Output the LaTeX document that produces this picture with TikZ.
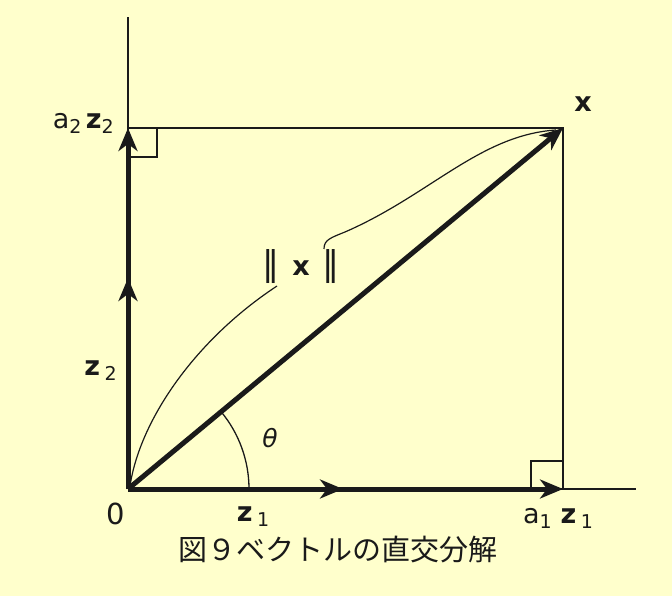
\documentclass[tikz,border=0pt]{standalone}
\usepackage{fontspec}
\setmainfont{DejaVu Sans}
\newfontfamily\cjk{Noto Sans CJK JP}
\usetikzlibrary{arrows.meta}
\definecolor{bg}{HTML}{FFFFCC}
\definecolor{ink}{HTML}{1A1A1A}
\newcommand{\lsub}[1]{\raisebox{-5pt}{\fontsize{19}{19}\selectfont #1}}
\tikzset{
  thinline/.style={draw=ink, line width=2.2pt},
  vec/.style={draw=ink, line width=5pt, -{Stealth[length=23pt,width=19pt,inset=7pt]}},
  bracecurve/.style={draw=ink, line width=1.2pt},
  lab/.style={text=ink, inner sep=0pt, font=\fontsize{27}{27}\selectfont},
  captxt/.style={text=ink, inner sep=0pt, font=\cjk\fontsize{29}{29}\selectfont}
}
\begin{document}
\begin{tikzpicture}[x=1pt,y=-1pt]
\fill[bg] (0,0) rectangle (672,596);
\useasboundingbox (0,0) rectangle (672,596);
\coordinate (O) at (128,489);
\coordinate (A1) at (563,489);
\coordinate (A2) at (128,128);
\coordinate (X) at (563,128);
\coordinate (Ytop) at (128,17);
\coordinate (Xend) at (636,489);
\coordinate (Z1) at (343,489);
\coordinate (Z2) at (128,278);
% axes and rectangle
\draw[thinline] (O) -- (Ytop);
\draw[thinline] (O) -- (Xend);
\draw[thinline] (A2) -- (X) -- (A1);
% right-angle marks
\draw[thinline] (128,157) -- (157,157) -- (157,128);
\draw[thinline] (531,489) -- (531,461) -- (563,461);
% theta arc
\draw[draw=ink, line width=1.3pt] (O) ++(121,0) arc[start angle=0, end angle=-39.69, radius=121];
% brace curve
\draw[bracecurve] (130,486) .. controls (140,420) and (195,340) .. (277,286);
\draw[bracecurve] (324,249) .. controls (324,240) and (330,238) .. (345,232) .. controls (430,195) and (480,135) .. (556,130);
% vectors
\draw[vec] (O) -- (A1);
\draw[vec] (O) -- (Z1);
\draw[vec] (O) -- (A2);
\draw[vec] (O) -- (Z2);
\draw[vec] (O) -- (X);
% labels
\node[lab, anchor=east] (la2z2) at (114,123) {a\lsub{2}\,\textbf{z}\lsub{2}};
\node[lab, anchor=east] (lz2) at (117,371) {\textbf{z}\,\lsub{2}};
\node[lab] (lz1) at (253,517) {\textbf{z}\,\lsub{1}};
\node[lab] (la1z1) at (558,518) {a\lsub{1}\,\,\textbf{z}\,\lsub{1}};
\node[lab, font=\fontsize{29}{29}\selectfont] (l0) at (116,514) {0};
\node[lab] (lx) at (583,104) {\textbf{x}};
\node[lab] (lnorm) at (301,267) {\fontsize{34}{34}\selectfont ‖\hspace{13pt}\fontsize{27}{27}\selectfont\textbf{x}\hspace{13pt}\fontsize{34}{34}\selectfont ‖};
\node[lab, font=\fontsize{25}{25}\selectfont\itshape] (lth) at (270,438) {θ};
\node[captxt] (caption) at (338,550) {図９ベクトルの直交分解};
\end{tikzpicture}
\end{document}
